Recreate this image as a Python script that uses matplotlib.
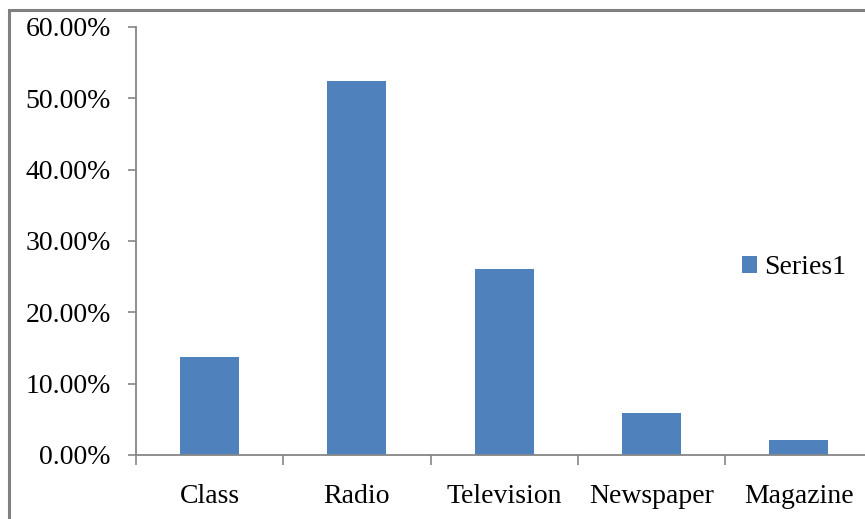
import matplotlib.pyplot as plt
from matplotlib.patches import Rectangle
from matplotlib.ticker import FixedLocator, PercentFormatter

# share of respondents by media source
categories = ["Class", "Radio", "Television", "Newspaper", "Magazine"]
share = [13.75, 52.45, 26.1, 5.9, 2.1]
y_ticks = [0, 10, 20, 30, 40, 50, 60]
series_name = "Series1"

bar_color = "#4F81BD"
axis_gray = "#868686"

plt.rcParams['font.family'] = ['Liberation Serif', 'DejaVu Serif']

fig = plt.figure(figsize=(8.65, 5.19), dpi=100)
fig.patch.set_facecolor("white")

# chart-area frame (cut off on the right and bottom)
frame = Rectangle((9 / 865, -0.1), 1.2, 1 - 10 / 519 + 0.1, transform=fig.transFigure,
                  fill=False, edgecolor="#808080", lw=2.2, zorder=0)
fig.patches.append(frame)

ax = fig.add_axes([136 / 865, 64 / 519, 736.5 / 865, 428 / 519])
x = range(len(categories))
ax.bar(x, share, width=0.4, color=bar_color, label=series_name, zorder=2)

ax.set_xlim(-0.5, len(categories) - 0.5)
ax.set_ylim(0, 60)

for side in ["top", "right"]:
    ax.spines[side].set_visible(False)
for side in ["left", "bottom"]:
    ax.spines[side].set_color(axis_gray)
    ax.spines[side].set_linewidth(1.3)

ax.set_yticks(y_ticks)
ax.yaxis.set_major_formatter(PercentFormatter(decimals=2))
ax.tick_params(axis="y", length=6, width=1.2, color=axis_gray, pad=12,
               labelsize=20, labelcolor="black")

# ticks at category boundaries, labels at centres
ax.xaxis.set_major_locator(FixedLocator([i - 0.5 for i in range(len(categories) + 1)]))
ax.xaxis.set_minor_locator(FixedLocator(list(x)))
ax.tick_params(axis="x", which="major", length=7, width=1.2, color=axis_gray,
               labelbottom=False)
ax.set_xticklabels(categories, minor=True)
ax.tick_params(axis="x", which="minor", length=0, pad=21, labelsize=20,
               labelcolor="black")

leg = fig.legend(loc="center left", bbox_to_anchor=(731 / 865, 1 - 268 / 519),
                 frameon=False, fontsize=20, handlelength=0.55, handleheight=0.55,
                 handletextpad=0.25, borderaxespad=0)

fig.savefig("out.png", dpi=100)
